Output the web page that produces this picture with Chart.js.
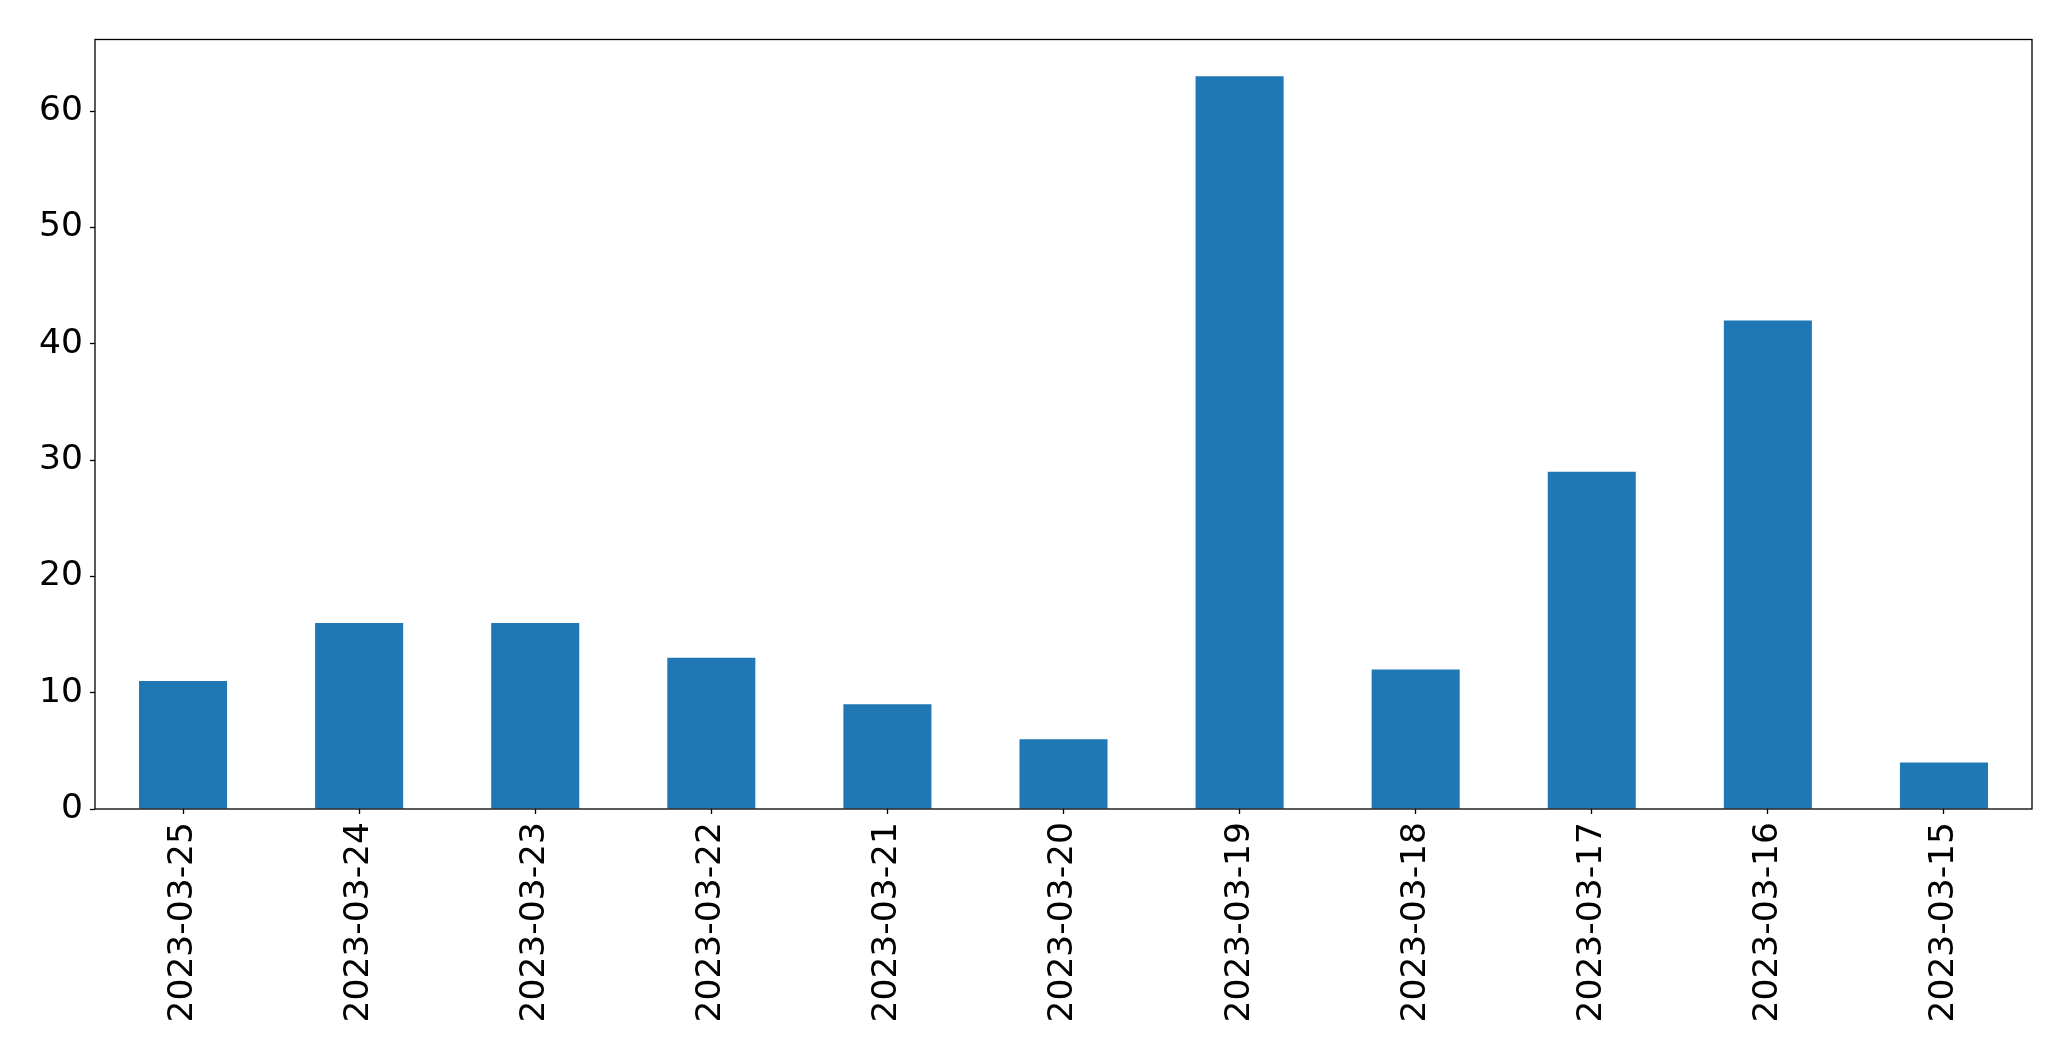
<!DOCTYPE html>
<html>
<head>
<meta charset="utf-8">
<script src="https://cdn.jsdelivr.net/npm/chart.js@4"></script>
<style>
  html, body { margin: 0; padding: 0; background: #fff; }
  #wrap { width: 2071px; height: 1061px; }
</style>
</head>
<body>
<div id="wrap"><canvas id="barChart" width="2071" height="1061"></canvas></div>
<script>
// --- Data ---
const dates = ['2023-03-25', '2023-03-24', '2023-03-23', '2023-03-22', '2023-03-21', '2023-03-20',
               '2023-03-19', '2023-03-18', '2023-03-17', '2023-03-16', '2023-03-15'];
const counts = [11, 16, 16, 13, 9, 6, 63, 12, 29, 42, 4];
const yTicks = [0, 10, 20, 30, 40, 50, 60];

const fontFamily = '"DejaVu Sans", sans-serif';

// draw the box around the plot area (matplotlib style frame)
const frame = {
    id: 'frame',
    afterDatasetsDraw(chart) {
        const { ctx, chartArea: a } = chart;
        ctx.save();
        ctx.strokeStyle = '#000';
        ctx.lineWidth = 1.3;
        ctx.strokeRect(a.left, a.top, a.right - a.left, a.bottom - a.top);
        ctx.restore();
    }
};

new Chart(document.getElementById('barChart').getContext('2d'), {
    type: 'bar',
    data: {
        labels: dates,
        datasets: [{
            data: counts,
            backgroundColor: '#1f77b4',
            borderWidth: 0,
            categoryPercentage: 1.0,
            barPercentage: 0.5
        }]
    },
    options: {
        responsive: false,
        animation: false,
        devicePixelRatio: 1,
        layout: { padding: { top: 39.5, right: 39, left: 0, bottom: 0 } },
        scales: {
            x: {
                grid: { display: true, drawOnChartArea: false, offset: false, color: '#000', tickLength: 5, tickWidth: 1.3 },
                border: { display: false },
                ticks: {
                    color: '#000',
                    font: { family: fontFamily, size: 34.5 },
                    minRotation: 90,
                    maxRotation: 90,
                    autoSkip: false,
                    padding: 8
                },
                afterFit(scale) { scale.height = 252; }
            },
            y: {
                min: 0,
                max: 66.15,
                grid: { display: true, drawOnChartArea: false, color: '#000', tickLength: 5, tickWidth: 1.3 },
                border: { display: false },
                ticks: {
                    color: '#000',
                    font: { family: fontFamily, size: 34.5 },
                    padding: 7
                },
                afterBuildTicks(scale) {
                    scale.ticks = yTicks.map(v => ({ value: v }));
                },
                afterFit(scale) { scale.width = 95; }
            }
        },
        plugins: {
            legend: { display: false },
            title: { display: false },
            tooltip: { enabled: false }
        }
    },
    plugins: [frame]
});
</script>
</body>
</html>
